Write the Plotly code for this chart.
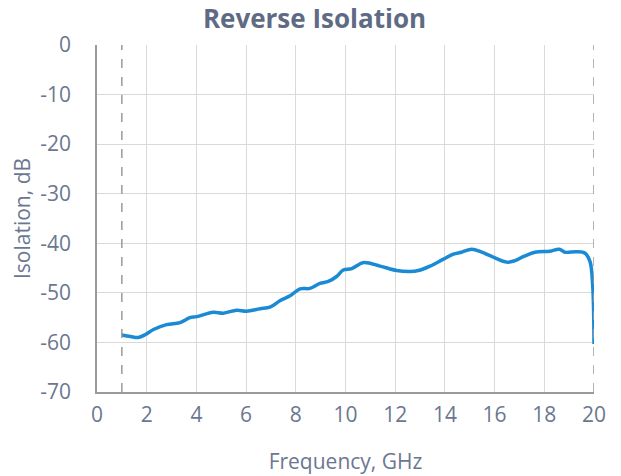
import plotly.graph_objects as go

# reverse isolation trace
freq_ghz = [1.0, 1.35, 1.66, 1.95, 2.27, 2.8, 3.34, 3.74, 4.01, 4.68, 5.08, 5.62, 6.02,
            6.56, 6.96, 7.36, 7.77, 8.17, 8.57, 8.97, 9.31, 9.64, 9.91, 10.25, 10.72,
            11.39, 12.06, 12.6, 12.93, 13.4, 13.94, 14.34, 14.67, 15.08, 15.48, 15.95,
            16.49, 16.82, 17.15, 17.63, 18.23, 18.6, 18.83, 19.3, 19.64, 19.84, 19.95, 20.0]
isolation_db = [-58.5, -58.8, -59.0, -58.4, -57.4, -56.4, -56.0, -55.0, -54.8, -53.9,
                -54.1, -53.5, -53.7, -53.2, -52.9, -51.6, -50.6, -49.2, -49.1, -48.1,
                -47.7, -46.7, -45.4, -45.1, -43.9, -44.6, -45.5, -45.7, -45.5, -44.6,
                -43.2, -42.2, -41.8, -41.2, -41.8, -42.8, -43.8, -43.5, -42.7, -41.8,
                -41.6, -41.2, -41.8, -41.7, -42.0, -43.7, -48.8, -60.3]

band_edges = [1, 20]
x_ticks = list(range(0, 21, 2))
y_ticks = list(range(-70, 1, 10))
y_labels = [str(v) for v in y_ticks]  # plain hyphen, like the reference

txt = "#6b7790"
fig = go.Figure()
fig.add_trace(go.Scatter(x=freq_ghz, y=isolation_db, mode="lines", line_shape="spline",
                         line=dict(color="#1a8ad4", width=3.5), showlegend=False))
for f in band_edges:
    fig.add_shape(type="line", x0=f, x1=f, y0=-70, y1=0, xref="x", yref="y",
                  line=dict(color="#9a9a9a", width=1.5, dash="dash"))

# page body has an 8px default margin, so the figure is sized/offset to fit the window
fig.update_layout(
    title=dict(text="<b>Reverse Isolation</b>", x=0.5, xanchor="center",
               y=0.977, yanchor="middle",
               font=dict(family="Open Sans", size=26, color="#5f6b84")),
    width=613, height=468,
    margin=dict(l=89, r=27, t=37, b=84),
    plot_bgcolor="white", paper_bgcolor="white",
    font=dict(family="Open Sans", size=21, color=txt),
    xaxis=dict(range=[0, 20], tickvals=x_ticks, showgrid=True, gridcolor="#d9d9d9",
               showline=True, linecolor="#9a9a9a", linewidth=1.5, zeroline=False,
               ticks="", ticklabelstandoff=3, automargin=False,
               title=dict(text="Frequency, GHz", standoff=27, font=dict(size=21, color=txt))),
    yaxis=dict(range=[-70, 0], tickvals=y_ticks, ticktext=y_labels, showgrid=True,
               gridcolor="#d9d9d9", showline=True, linecolor="#9a9a9a", linewidth=1.5,
               zeroline=False, ticks="", ticklabelstandoff=20, automargin=False,
               title=dict(text="Isolation, dB", standoff=14, font=dict(size=21, color=txt))),
)
fig.write_html("out.html")
